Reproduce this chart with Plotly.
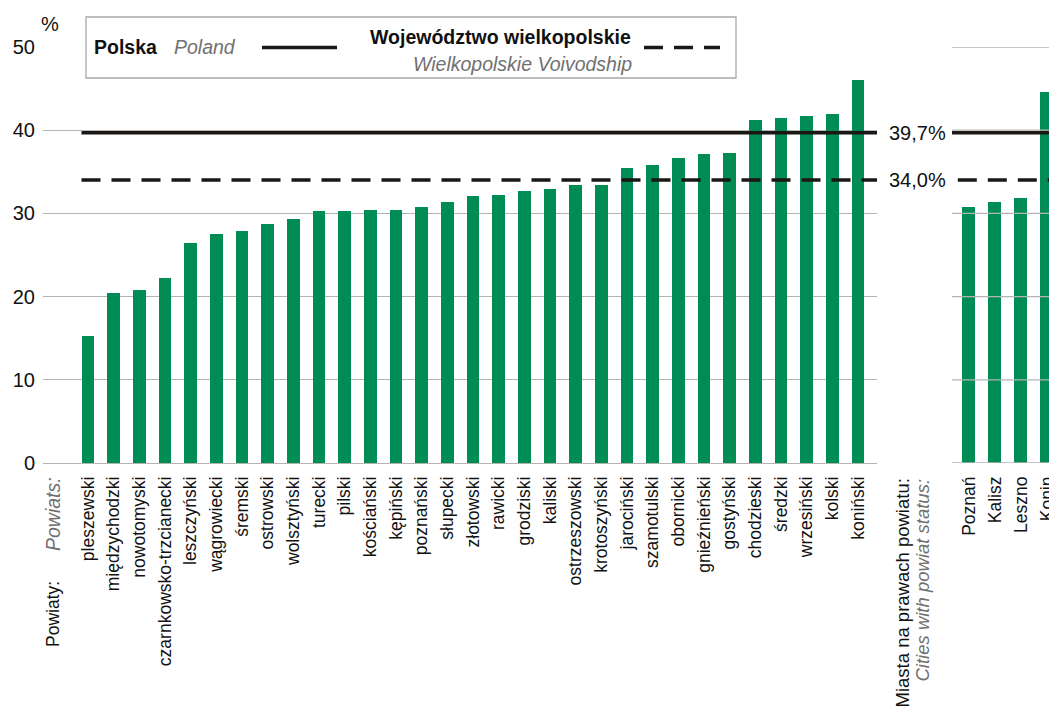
import plotly.graph_objects as go

# ---- data ----
powiaty = ["pleszewski", "międzychodzki", "nowotomyski", "czarnkowsko-trzcianecki",
           "leszczyński", "wągrowiecki", "śremski", "ostrowski", "wolsztyński",
           "turecki", "pilski", "kościański", "kępiński", "poznański", "słupecki",
           "złotowski", "rawicki", "grodziski", "kaliski", "ostrzeszowski",
           "krotoszyński", "jarociński", "szamotulski", "obornicki", "gnieźnieński",
           "gostyński", "chodzieski", "średzki", "wrzesiński", "kolski", "koniński"]
powiaty_values = [15.3, 20.4, 20.8, 22.2, 26.4, 27.5, 27.9, 28.7, 29.3, 30.3, 30.3,
                  30.4, 30.4, 30.8, 31.4, 32.1, 32.2, 32.7, 32.9, 33.4, 33.4, 35.5,
                  35.8, 36.7, 37.1, 37.3, 41.2, 41.5, 41.7, 42.0, 46.0]
miasta = ["Poznań", "Kalisz", "Leszno", "Konin"]
miasta_values = [30.8, 31.4, 31.9, 44.6]
poland_value = 39.7
voivodship_value = 34.0
y_ticks = [0, 10, 20, 30, 40, 50]

# ---- style ----
W, H = 1049, 714
FONT = "Liberation Sans, Arial, sans-serif"
GREEN = "#008c55"
GRID = "#b4b4b4"
BLACK = "#1a1714"
GREY_TXT = "#707070"
BAR_W = 0.5
DASH = "19px,11px"


def px_x(p):
    return p / W


def px_y(p):
    return 1 - p / H


fig = go.Figure()
fig.add_trace(go.Bar(x=powiaty, y=powiaty_values, marker_color=GREEN, width=BAR_W,
                     marker_line_width=0, xaxis="x", yaxis="y", showlegend=False))
fig.add_trace(go.Bar(x=miasta, y=miasta_values, marker_color=GREEN, width=BAR_W,
                     marker_line_width=0, xaxis="x2", yaxis="y2", showlegend=False))

ydom = [px_y(463), px_y(47)]
fig.update_layout(
    width=W, height=H,
    margin=dict(l=0, r=0, t=0, b=0),
    paper_bgcolor="white", plot_bgcolor="white",
    font=dict(family=FONT, color="#111111"),
    xaxis=dict(domain=[px_x(43), px_x(877)], range=[-1.75, 30.74], type="category",
               tickangle=-90, tickfont=dict(size=17.5), showgrid=False, showline=False,
               ticks="", automargin=False, ticklabelstandoff=9),
    yaxis=dict(domain=ydom, range=[0, 50], tickvals=y_ticks, showgrid=True,
               gridcolor=GRID, gridwidth=1.3, zeroline=True, zerolinecolor=GRID,
               zerolinewidth=1.3, tickfont=dict(size=20), ticks="", automargin=False,
               ticklabelstandoff=7),
    xaxis2=dict(domain=[px_x(952), 1.0], range=[-0.65, 3.08], type="category",
                anchor="y2", tickangle=-90, tickfont=dict(size=17.5), showgrid=False,
                ticks="", automargin=False, ticklabelstandoff=9),
    yaxis2=dict(domain=ydom, range=[0, 50], anchor="x2", showticklabels=False,
                showgrid=False, zeroline=False, automargin=False),
    bargap=0,
)

shapes = []
# right panel gridlines drawn above bars
for t in y_ticks:
    shapes.append(dict(type="line", xref="x2 domain", yref="y2", x0=0, x1=1, y0=t, y1=t,
                       line=dict(color=GRID, width=1.3), layer="above"))
# reference lines, left panel
shapes.append(dict(type="line", xref="x", yref="y", x0=-BAR_W / 2, x1=30.74,
                   y0=poland_value, y1=poland_value,
                   line=dict(color=BLACK, width=3.5), layer="above"))
shapes.append(dict(type="line", xref="x", yref="y", x0=-BAR_W / 2, x1=30.74,
                   y0=voivodship_value, y1=voivodship_value,
                   line=dict(color=BLACK, width=3.5, dash=DASH), layer="above"))
# reference lines, right panel
shapes.append(dict(type="line", xref="x2 domain", yref="y2", x0=0, x1=1,
                   y0=poland_value, y1=poland_value,
                   line=dict(color=BLACK, width=3.5), layer="above"))
shapes.append(dict(type="line", xref="x2 domain", yref="y2", x0=0.06, x1=1,
                   y0=voivodship_value, y1=voivodship_value,
                   line=dict(color=BLACK, width=3.5, dash=DASH), layer="above"))
# legend box
shapes.append(dict(type="rect", xref="paper", yref="paper", x0=px_x(86), x1=px_x(736),
                   y0=px_y(78), y1=px_y(17), fillcolor="white",
                   line=dict(color="#a8a8a8", width=1.3), layer="above"))
shapes.append(dict(type="line", xref="paper", yref="paper", x0=px_x(262), x1=px_x(337),
                   y0=px_y(47.5), y1=px_y(47.5), line=dict(color=BLACK, width=3.5),
                   layer="above"))
shapes.append(dict(type="line", xref="paper", yref="paper", x0=px_x(644), x1=px_x(720),
                   y0=px_y(47.5), y1=px_y(47.5), line=dict(color=BLACK, width=3.5, dash=DASH),
                   layer="above"))
fig.update_layout(shapes=shapes)


def fmt(v):
    return f"{v:.1f}".replace(".", ",") + "%"


ann = []


def add(text, x, y, xa, ya, size, color="#111111", angle=0, align="left"):
    ann.append(dict(text=text, x=px_x(x), y=px_y(y), xref="paper", yref="paper",
                    xanchor=xa, yanchor=ya, showarrow=False, textangle=angle,
                    align=align, font=dict(size=size, color=color, family=FONT)))


add("%", 50, 24, "center", "middle", 20)
add("<b>Polska</b>", 92, 47, "left", "middle", 19.5)
add("<i>Poland</i>", 172, 47, "left", "middle", 19.5, GREY_TXT)
add("<b>Województwo wielkopolskie</b>", 633, 37, "right", "middle", 19.5)
add("<i>Wielkopolskie Voivodship</i>", 634, 64, "right", "middle", 19.5, GREY_TXT)
ann.append(dict(text=fmt(poland_value), x=px_x(887), y=poland_value, xref="paper", yref="y",
                xanchor="left", yanchor="middle", showarrow=False,
                font=dict(size=20, color="#111111", family=FONT)))
ann.append(dict(text=fmt(voivodship_value), x=px_x(887), y=voivodship_value, xref="paper",
                yref="y", xanchor="left", yanchor="middle", showarrow=False,
                font=dict(size=20, color="#111111", family=FONT)))
add("<i>Powiats:</i>", 53, 475, "center", "top", 19.5, GREY_TXT, -90)
add("Powiaty:", 53, 579, "center", "top", 17.5, "#111111", -90)
add("Miasta na prawach powiatu:", 902, 477, "center", "top", 18.5, "#111111", -90)
add("<i>Cities with powiat status:</i>", 922, 477, "center", "top", 18.5, GREY_TXT, -90)
fig.update_layout(annotations=ann)

fig.write_html("out.html", config={"displayModeBar": False},
               post_script="document.body.style.margin='0';"
                           "document.body.style.overflow='hidden';")
